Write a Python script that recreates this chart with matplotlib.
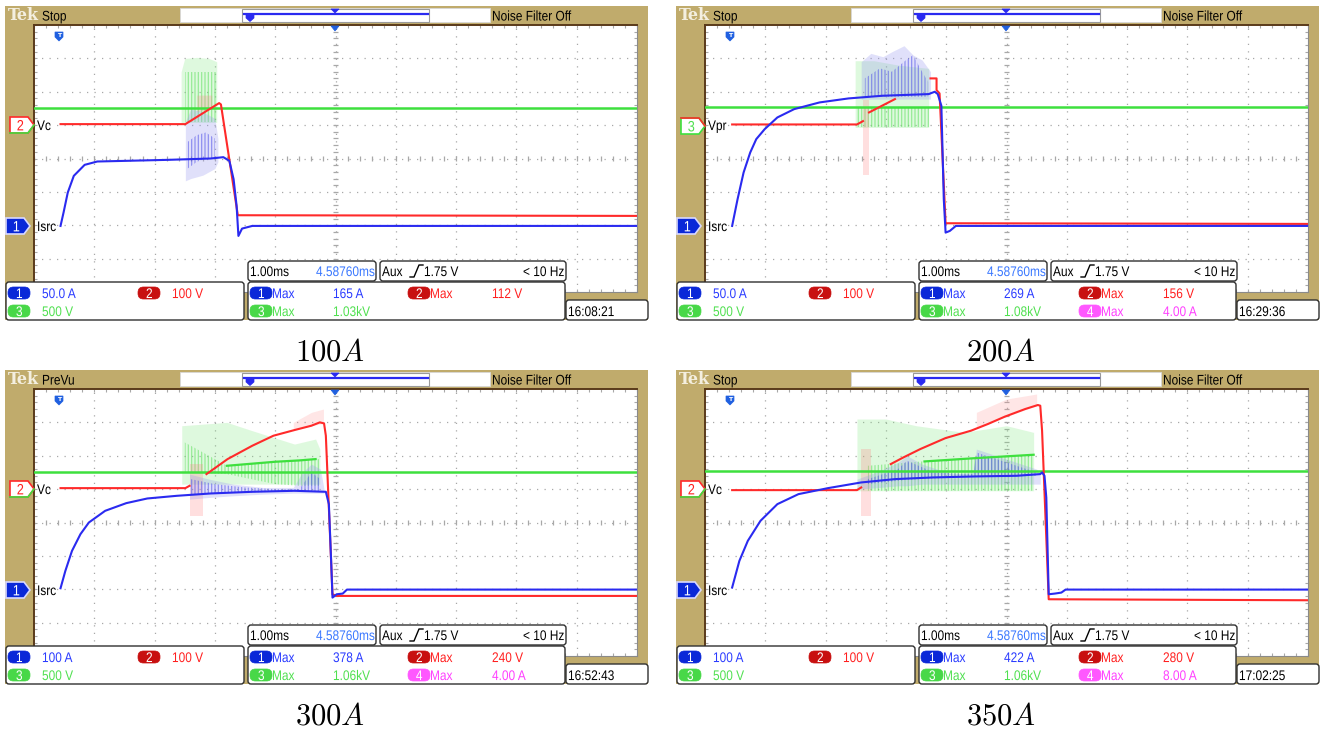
import numpy as np
import matplotlib
matplotlib.use("Agg")
import matplotlib.pyplot as plt
from matplotlib.patches import Rectangle, FancyBboxPatch, Polygon, PathPatch
from matplotlib.textpath import TextPath
from matplotlib.font_manager import FontProperties
from matplotlib.transforms import Affine2D

# ------------------------------------------------------------------ data
CAPTIONS = ["100A", "200A", "300A", "350A"]
STATUS = ["Stop", "Stop", "PreVu", "Stop"]
REF_CH = ["2", "3", "2", "2"]
REF_LABEL = ["Vc", "Vpr", "Vc", "Vc"]
CH1_SCALE = ["50.0 A", "50.0 A", "100 A", "100 A"]
CH2_SCALE = ["100 V", "100 V", "100 V", "100 V"]
CH3_SCALE = ["500 V", "500 V", "500 V", "500 V"]
MAX1 = ["165 A", "269 A", "378 A", "422 A"]
MAX2 = ["112 V", "156 V", "240 V", "280 V"]
MAX3 = ["1.03kV", "1.08kV", "1.06kV", "1.06kV"]
MAX4 = ["", "4.00 A", "4.00 A", "8.00 A"]
TIMESTAMPS = ["16:08:21", "16:29:36", "16:52:43", "17:02:25"]
TIMEBASE = "1.00ms"
POSITION = "4.58760ms"
TRIG_SRC = "Aux"
TRIG_LEVEL = "1.75 V"
TRIG_FREQ = "< 10 Hz"

# traces in graticule divisions (x 0..10, y -4..4); nan = gap
P1_GREEN_X = [0.0, 10.0]
P1_GREEN_Y = [1.51, 1.51]
P1_RED_X = [0.44, 2.51, 3.07, 3.10, 3.38, 10.0]
P1_RED_Y = [1.03, 1.03, 1.66, 1.62, -1.70, -1.72]
P1_BLUE_X = [0.44, 0.49, 0.56, 0.66, 0.84, 1.05, 1.53, 2.23, 2.93, 3.14, 3.24, 3.31, 3.36, 3.39, 3.45, 3.62, 10.0]
P1_BLUE_Y = [-2.02, -1.62, -1.02, -0.52, -0.19, -0.09, -0.07, -0.04, 0.0, 0.04, -0.07, -0.62, -1.42, -2.32, -2.10, -2.02, -2.02]
P1_GL_X = [2.44, 2.50, 2.70, 2.90, 3.03]
P1_GL_LO = [1.08, 1.08, 1.08, 1.08, 1.08]
P1_GL_HI = [2.60, 3.00, 3.03, 3.00, 2.90]
P1_GD_X = [2.50, 3.03]
P1_GD_LO = [1.10, 1.10]
P1_GD_HI = [2.60, 2.60]
P1_BL_X = [2.51, 2.60, 2.80, 3.00, 3.05]
P1_BL_LO = [-0.67, -0.60, -0.50, -0.30, -0.10]
P1_BL_HI = [1.10, 1.48, 1.40, 1.20, 0.60]
P1_BD_X = [2.55, 2.70, 2.85, 3.00]
P1_BD_LO = [-0.30, -0.10, 0.00, 0.00]
P1_BD_HI = [0.50, 0.70, 0.78, 0.60]
P1_RL_X = [2.70, 2.95]
P1_RL_LO = [1.40, 1.50]
P1_RL_HI = [1.90, 1.90]

P2_GREEN_X = [0.0, 10.0]
P2_GREEN_Y = [1.53, 1.53]
P2_RED_X = [0.45, 2.52, 2.62, np.nan, 2.72, 3.15, np.nan, 3.74, 3.84, 3.84, 3.89, 3.99, 10.0]
P2_RED_Y = [1.02, 1.02, 1.12, np.nan, 1.38, 1.78, np.nan, 2.40, 2.40, 2.05, 1.95, -1.94, -1.96]
P2_BLUE_X = [0.45, 0.54, 0.64, 0.75, 0.85, 0.99, 1.20, 1.48, 1.90, 2.38, 2.94, 3.71, 3.81, 3.86, 3.92, 3.96, 3.99, 4.06, 4.16, 10.0]
P2_BLUE_Y = [-2.02, -1.22, -0.42, 0.18, 0.58, 0.88, 1.23, 1.48, 1.68, 1.80, 1.88, 1.93, 2.00, 1.93, 1.58, -1.22, -2.22, -2.17, -2.02, -2.02]
P2_GL_X = [2.49, 2.80, 3.20, 3.71]
P2_GL_LO = [0.93, 0.93, 0.93, 0.93]
P2_GL_HI = [2.93, 2.93, 2.80, 2.70]
P2_GD_X = [2.50, 3.71]
P2_GD_LO = [0.93, 0.93]
P2_GD_HI = [1.53, 1.53]
P2_BL_X = [2.59, 2.75, 2.95, 3.10, 3.30, 3.45, 3.60, 3.74]
P2_BL_LO = [1.78, 1.78, 1.78, 1.78, 1.78, 1.78, 1.78, 1.78]
P2_BL_HI = [2.90, 3.15, 3.05, 3.20, 3.38, 3.10, 2.95, 2.60]
P2_BD_X = [2.65, 2.90, 3.10, 3.30, 3.45, 3.60, 3.70]
P2_BD_LO = [1.85, 1.85, 1.85, 1.85, 1.85, 1.85, 1.85]
P2_BD_HI = [2.40, 2.70, 2.60, 2.90, 3.10, 2.60, 2.30]
P2_RL_X = [2.62, 2.72]
P2_RL_LO = [-0.50, -0.50]
P2_RL_HI = [1.75, 1.75]

P3_GREEN_X = [0.0, 10.0]
P3_GREEN_Y = [1.52, 1.52]
P3_RED_X = [0.44, 2.51, 2.58, np.nan, 2.86, 3.21, 3.62, 3.97, 4.32, 4.60, 4.74, 4.81, 4.84, 4.95, 5.02, 10.0]
P3_RED_Y = [1.03, 1.03, 1.10, np.nan, 1.45, 1.90, 2.30, 2.60, 2.77, 2.90, 3.00, 2.97, 2.60, -2.15, -2.20, -2.20]
P3_BLUE_X = [0.44, 0.52, 0.63, 0.77, 0.91, 1.18, 1.53, 1.88, 2.37, 2.93, 3.62, 4.32, 4.84, 4.89, 4.93, 4.95, 5.02, 5.12, 5.19, 10.0]
P3_BLUE_Y = [-1.97, -1.45, -0.85, -0.35, 0.0, 0.35, 0.58, 0.72, 0.80, 0.87, 0.92, 0.95, 0.92, 0.55, -1.25, -2.25, -2.15, -2.13, -2.01, -2.01]
P3_GL_X = [2.45, 3.20, 3.62, 4.32, 4.67, 4.74]
P3_GL_LO = [1.15, 1.15, 1.15, 1.15, 1.15, 1.15]
P3_GL_HI = [2.90, 3.00, 2.75, 2.35, 2.50, 2.20]
P3_GD_X = [2.50, 3.20, 3.60, 4.00, 4.40, 4.74]
P3_GD_LO = [1.50, 1.45, 1.30, 1.15, 1.10, 1.10]
P3_GD_HI = [2.40, 1.70, 1.76, 1.82, 1.86, 1.90]
P3_GLINE_X = [3.20, 3.60, 4.00, 4.40, 4.67]
P3_GLINE_Y = [1.70, 1.76, 1.82, 1.86, 1.90]
P3_BL_X = [2.58, 2.90, 3.30, 3.80, 4.30, 4.45, 4.60, 4.75, 4.81]
P3_BL_LO = [0.70, 0.75, 0.80, 0.85, 0.88, 0.88, 0.88, 0.88, 0.88]
P3_BL_HI = [1.45, 1.30, 1.15, 1.05, 1.05, 1.50, 1.75, 1.60, 1.00]
P3_BD_X = [2.60, 3.00, 3.50, 4.00, 4.40, 4.60, 4.75]
P3_BD_LO = [0.85, 0.87, 0.90, 0.92, 0.93, 0.93, 0.93]
P3_BD_HI = [1.30, 1.15, 1.05, 1.00, 1.00, 1.50, 1.30]
P3_RL_X = [2.58, 2.80]
P3_RL_LO = [0.20, 0.20]
P3_RL_HI = [1.75, 1.75]
P3_RP_X = [4.30, 4.60, 4.80]
P3_RP_LO = [2.77, 2.90, 2.97]
P3_RP_HI = [3.00, 3.30, 3.40]

P4_GREEN_X = [0.0, 10.0]
P4_GREEN_Y = [1.53, 1.53]
P4_RED_X = [0.45, 2.52, 2.59, np.nan, 3.08, 3.29, 3.57, 3.99, 4.41, 4.69, 4.97, 5.31, 5.52, 5.56, 5.59, 5.70, 10.0]
P4_RED_Y = [0.97, 0.97, 1.05, np.nan, 1.75, 1.95, 2.20, 2.53, 2.75, 2.95, 3.17, 3.40, 3.52, 3.50, 2.75, -2.30, -2.33]
P4_BLUE_X = [0.45, 0.57, 0.71, 0.92, 1.20, 1.55, 2.04, 2.59, 3.15, 3.78, 4.48, 5.17, 5.56, 5.59, 5.63, 5.66, 5.70, 5.80, 5.91, 5.98, 10.0]
P4_BLUE_Y = [-1.95, -1.15, -0.55, 0.05, 0.55, 0.85, 1.03, 1.20, 1.30, 1.35, 1.38, 1.40, 1.45, 1.50, 1.40, 0.75, -2.15, -2.13, -2.10, -2.01, -2.01]
P4_GL_X = [2.52, 3.00, 3.50, 4.30, 5.00, 5.45]
P4_GL_LO = [0.95, 0.95, 0.95, 0.95, 0.95, 0.95]
P4_GL_HI = [3.10, 3.10, 2.90, 2.70, 2.90, 2.70]
P4_GD_X = [2.70, 3.60, 4.50, 5.45]
P4_GD_LO = [0.95, 0.95, 0.95, 0.95]
P4_GD_HI = [1.70, 1.83, 1.93, 2.03]
P4_GLINE_X = [3.64, 4.50, 5.45]
P4_GLINE_Y = [1.83, 1.93, 2.03]
P4_BL_X = [2.52, 2.90, 3.20, 3.35, 3.60, 4.10, 4.45, 4.50, 5.00, 5.50, 5.56]
P4_BL_LO = [1.00, 1.05, 1.10, 1.10, 1.15, 1.15, 1.15, 1.15, 1.15, 1.15, 1.15]
P4_BL_HI = [1.30, 1.55, 1.80, 2.00, 1.75, 1.45, 1.50, 2.20, 1.90, 1.60, 1.45]
P4_BD_X = [2.70, 3.20, 3.35, 3.80, 4.45, 4.50, 5.00, 5.50]
P4_BD_LO = [1.15, 1.25, 1.28, 1.32, 1.36, 1.36, 1.38, 1.40]
P4_BD_HI = [1.30, 1.60, 1.85, 1.50, 1.45, 2.10, 1.80, 1.50]
P4_RL_X = [2.59, 2.75]
P4_RL_LO = [0.20, 0.20]
P4_RL_HI = [2.20, 2.20]
P4_RP_X = [4.50, 5.00, 5.50]
P4_RP_LO = [2.85, 3.18, 3.50]
P4_RP_HI = [3.30, 3.70, 3.85]

# ------------------------------------------------------------------ style
W, H = 1320, 729
TAN = "#c0ab6c"
BLUE = "#2a2af0"
RED = "#ff2a2a"
GREEN = "#3ee03e"
TXT_BLUE = "#2b3cff"
TXT_POS = "#3a78ff"
TXT_RED = "#ff2020"
TXT_GREEN = "#50e050"
TXT_MAG = "#ff40ff"
PILL_BLUE = "#0a28d8"
PILL_RED = "#c81010"
PILL_GREEN = "#48d848"
PILL_MAG = "#ff58ff"
GRID = "#a8a8a8"
FP = FontProperties(family=["Liberation Sans", "DejaVu Sans"])
TSIZE = 14.0      # em size in pixels
SX = 0.85         # condensed look of the scope font

plt.rcParams["hatch.linewidth"] = 0.9
plt.rcParams["mathtext.fontset"] = "cm"

fig = plt.figure(figsize=(13.2, 7.29), dpi=100)
fig.patch.set_facecolor("white")
bg = fig.add_axes([0, 0, 1, 1], zorder=0)
bg.set_xlim(0, W); bg.set_ylim(H, 0); bg.axis("off")
ov = fig.add_axes([0, 0, 1, 1], zorder=5)
ov.set_xlim(0, W); ov.set_ylim(H, 0); ov.axis("off")


def txt(ax, x, y, s, color="black", size=TSIZE, ha="left", sx=SX):
    """Condensed scope text drawn as a path in pixel coordinates."""
    tp = TextPath((0, 0), s, size=size, prop=FP)
    ext = tp.get_extents()
    w = ext.x1 * sx
    if ha == "center":
        x0 = x - w / 2
    elif ha == "right":
        x0 = x - w
    else:
        x0 = x
    tr = Affine2D().scale(sx, -1.0).translate(x0, y + 0.36 * size)
    path = tr.transform_path(tp)
    ax.add_patch(PathPatch(path, fc=color, ec="none", lw=0, zorder=10))


def box(ax, x0, y0, x1, y1, r=3):
    ax.add_patch(FancyBboxPatch((x0, y0), x1 - x0, y1 - y0,
                                boxstyle=f"round,pad=0,rounding_size={r}",
                                fc="white", ec="#303030", lw=1.0))


def pill(ax, x, y, label, color, textlabel=None, tcolor=None):
    ax.add_patch(FancyBboxPatch((x, y - 6), 22, 12,
                                boxstyle="round,pad=0,rounding_size=5.5",
                                fc=color, ec=color, lw=0.5))
    txt(ax, x + 11, y, label, color="white", ha="center")
    if textlabel:
        txt(ax, x + 22, y, textlabel, color=tcolor)


def ch_marker(ax, x0, yc, label, fc, ec, tc, under=None, over=None):
    pts = [(x0, yc - 8), (x0 + 18, yc - 8), (x0 + 24, yc), (x0 + 18, yc + 8), (x0, yc + 8)]
    ax.add_patch(Polygon(pts, closed=True, fc=fc, ec=ec, lw=1.2))
    if under:
        ax.plot([x0, x0 + 18, x0 + 24], [yc + 8, yc + 8, yc], color=under, lw=1.2)
    if over:
        ax.plot([x0, x0 + 18, x0 + 24], [yc - 8, yc - 8, yc], color=over, lw=1.2)
    txt(ax, x0 + 10, yc, label, color=tc, size=15, ha="center")


def fill(ax, x, lo, hi, color, alpha, hatch=None, z=2):
    if hatch:
        ax.fill_between(x, lo, hi, facecolor="none", edgecolor=color, hatch=hatch,
                        linewidth=0, alpha=alpha, zorder=z)
    else:
        ax.fill_between(x, lo, hi, color=color, alpha=alpha, lw=0, zorder=z)


PANELS = [
    dict(green=(P1_GREEN_X, P1_GREEN_Y), red=(P1_RED_X, P1_RED_Y), blue=(P1_BLUE_X, P1_BLUE_Y),
         gl=(P1_GL_X, P1_GL_LO, P1_GL_HI), gd=(P1_GD_X, P1_GD_LO, P1_GD_HI),
         bl=(P1_BL_X, P1_BL_LO, P1_BL_HI), bd=(P1_BD_X, P1_BD_LO, P1_BD_HI),
         rl=(P1_RL_X, P1_RL_LO, P1_RL_HI), rp=None, gline=None),
    dict(green=(P2_GREEN_X, P2_GREEN_Y), red=(P2_RED_X, P2_RED_Y), blue=(P2_BLUE_X, P2_BLUE_Y),
         gl=(P2_GL_X, P2_GL_LO, P2_GL_HI), gd=(P2_GD_X, P2_GD_LO, P2_GD_HI),
         bl=(P2_BL_X, P2_BL_LO, P2_BL_HI), bd=(P2_BD_X, P2_BD_LO, P2_BD_HI),
         rl=(P2_RL_X, P2_RL_LO, P2_RL_HI), rp=None, gline=None),
    dict(green=(P3_GREEN_X, P3_GREEN_Y), red=(P3_RED_X, P3_RED_Y), blue=(P3_BLUE_X, P3_BLUE_Y),
         gl=(P3_GL_X, P3_GL_LO, P3_GL_HI), gd=(P3_GD_X, P3_GD_LO, P3_GD_HI),
         bl=(P3_BL_X, P3_BL_LO, P3_BL_HI), bd=(P3_BD_X, P3_BD_LO, P3_BD_HI),
         rl=(P3_RL_X, P3_RL_LO, P3_RL_HI), rp=(P3_RP_X, P3_RP_LO, P3_RP_HI),
         gline=(P3_GLINE_X, P3_GLINE_Y)),
    dict(green=(P4_GREEN_X, P4_GREEN_Y), red=(P4_RED_X, P4_RED_Y), blue=(P4_BLUE_X, P4_BLUE_Y),
         gl=(P4_GL_X, P4_GL_LO, P4_GL_HI), gd=(P4_GD_X, P4_GD_LO, P4_GD_HI),
         bl=(P4_BL_X, P4_BL_LO, P4_BL_HI), bd=(P4_BD_X, P4_BD_LO, P4_BD_HI),
         rl=(P4_RL_X, P4_RL_LO, P4_RL_HI), rp=(P4_RP_X, P4_RP_LO, P4_RP_HI),
         gline=(P4_GLINE_X, P4_GLINE_Y)),
]
ORIGINS = [(0, 0), (671, 0), (0, 364), (671, 364)]

for k, (d, (ox, oy)) in enumerate(zip(PANELS, ORIGINS)):
    # frame
    bg.add_patch(Rectangle((ox + 5, oy + 6), 643, 314, fc=TAN, lw=0))
    # graticule
    gl_, gt, gw, gh = ox + 34, oy + 25, 603, 267
    ax = fig.add_axes([gl_ / W, 1 - (gt + gh) / H, gw / W, gh / H], zorder=1)
    ax.set_xlim(0, 10); ax.set_ylim(-4, 4)
    ax.set_facecolor("white")
    for s in ax.spines.values():
        s.set_color("#8a8a8a"); s.set_linewidth(0.8)
    ax.spines["left"].set_color("#5a3a1a"); ax.spines["left"].set_linewidth(1.4)
    ax.spines["top"].set_color("#5a3a1a"); ax.spines["top"].set_linewidth(1.4)
    ax.set_xticks(np.arange(0, 10.01, 0.2)); ax.set_yticks(np.arange(-4, 4.01, 0.2))
    ax.tick_params(direction="in", length=2.5, width=0.8, color=GRID,
                   top=True, right=True, labelbottom=False, labelleft=False)
    for i in range(1, 10):
        ax.axvline(i, color=GRID, lw=0.9, ls=(0, (1, 5)), zorder=1)
    for j in range(-3, 4):
        ax.axhline(j, color=GRID, lw=0.9, ls=(0, (1, 5)), zorder=1)
    ax.hlines(np.arange(-4, 4.01, 0.2), 4.96, 5.04, color=GRID, lw=0.9, zorder=1)
    ax.vlines(np.arange(0, 10.01, 0.2), -0.07, 0.07, color=GRID, lw=0.9, zorder=1)

    # bursts
    fill(ax, *d["gl"], "#7ee87e", 0.25)
    fill(ax, *d["gd"], "#5ee05e", 0.55, hatch="|||||")
    fill(ax, *d["rl"], "#ff8080", 0.25)
    if d["rp"] is not None:
        fill(ax, *d["rp"], "#ff9090", 0.22)
    fill(ax, *d["bl"], "#9a9af0", 0.30, z=3)
    fill(ax, *d["bd"], "#5050e8", 0.55, hatch="|||||", z=3)

    gx, gy = d["green"]
    ax.plot(gx, gy, color=GREEN, lw=1.8, zorder=4)
    if d["gline"] is not None:
        ax.plot(*d["gline"], color=GREEN, lw=1.6, zorder=4)
    rx, ry = d["red"]
    ax.plot(rx, ry, color=RED, lw=1.5, zorder=5)
    bx, by = d["blue"]
    ax.plot(bx, by, color=BLUE, lw=1.5, zorder=6)

    # top bar
    bg.text(ox + 8, oy + 15, "Tek", color="#f4efe0", fontsize=11.5, family="DejaVu Serif",
            fontweight="bold", va="center", ha="left")
    txt(bg, ox + 42, oy + 15.5, STATUS[k])
    bg.add_patch(Rectangle((ox + 180, oy + 8), 310, 14, fc="white", ec="#d8d8d8", lw=0.6))
    bg.add_patch(Rectangle((ox + 242, oy + 8.5), 187, 13, fc="white", ec="#9a9a9a", lw=0.8))
    bg.plot([ox + 244, ox + 428], [oy + 13.5, oy + 13.5], color=BLUE, lw=1.6)
    bg.add_patch(Polygon([(ox + 331, oy + 9), (ox + 339, oy + 9), (ox + 335, oy + 13)],
                         fc=BLUE, ec=BLUE, lw=0.5))
    bg.add_patch(Polygon([(ox + 246, oy + 14), (ox + 254, oy + 14), (ox + 254, oy + 18),
                          (ox + 250, oy + 21.5), (ox + 246, oy + 18)], fc=BLUE, ec=BLUE, lw=0.5))
    txt(bg, ox + 492, oy + 15.5, "Noise Filter Off")

    # graticule markers (overlay)
    ov.add_patch(Polygon([(ox + 331, oy + 26), (ox + 339, oy + 26), (ox + 335, oy + 31)],
                         fc="#2060e0", ec="#2060e0", lw=0.5))
    ov.add_patch(Polygon([(ox + 55, oy + 32), (ox + 63, oy + 32), (ox + 63, oy + 37),
                          (ox + 59, oy + 41), (ox + 55, oy + 37)], fc="#2060e0", ec="#2060e0", lw=0.5))
    ov.text(ox + 59, oy + 35.5, "T", color="white", fontsize=4.5, ha="center", va="center",
            fontweight="bold")

    # left channel markers
    if REF_CH[k] == "2":
        ch_marker(ov, ox + 10, oy + 125, "2", "white", RED, TXT_RED, under=GREEN)
    else:
        ch_marker(ov, ox + 10, oy + 126, "3", "white", GREEN, TXT_GREEN, over=RED)
    txt(ov, ox + 37, oy + 125, REF_LABEL[k])
    ch_marker(ov, ox + 6, oy + 226, "1", PILL_BLUE, "#d8d8ff", "white")
    txt(ov, ox + 37, oy + 226, "Isrc")

    # timebase / trigger boxes
    box(ov, ox + 248, oy + 261, ox + 376, oy + 281)
    txt(ov, ox + 250, oy + 271, TIMEBASE)
    txt(ov, ox + 316, oy + 271, POSITION, color=TXT_POS)
    box(ov, ox + 380, oy + 261, ox + 566, oy + 281)
    txt(ov, ox + 382, oy + 271, TRIG_SRC)
    ov.plot([ox + 410, ox + 414, ox + 419, ox + 423],
            [oy + 277, oy + 277, oy + 265, oy + 265], color="black", lw=1.0)
    txt(ov, ox + 424, oy + 271, TRIG_LEVEL)
    txt(ov, ox + 523, oy + 271, TRIG_FREQ)

    # channel scale box
    box(ov, ox + 6, oy + 282, ox + 244, oy + 320)
    pill(ov, ox + 8, oy + 293, "1", PILL_BLUE)
    txt(ov, ox + 42, oy + 293, CH1_SCALE[k], color=TXT_BLUE)
    pill(ov, ox + 138, oy + 293, "2", PILL_RED)
    txt(ov, ox + 172, oy + 293, CH2_SCALE[k], color=TXT_RED)
    pill(ov, ox + 8, oy + 311, "3", PILL_GREEN)
    txt(ov, ox + 42, oy + 311, CH3_SCALE[k], color=TXT_GREEN)

    # measurement box
    box(ov, ox + 248, oy + 282, ox + 565, oy + 320)
    pill(ov, ox + 250, oy + 293, "1", PILL_BLUE, "Max", TXT_BLUE)
    txt(ov, ox + 333, oy + 293, MAX1[k], color=TXT_BLUE)
    pill(ov, ox + 408, oy + 293, "2", PILL_RED, "Max", TXT_RED)
    txt(ov, ox + 492, oy + 293, MAX2[k], color=TXT_RED)
    pill(ov, ox + 250, oy + 311, "3", PILL_GREEN, "Max", TXT_GREEN)
    txt(ov, ox + 333, oy + 311, MAX3[k], color=TXT_GREEN)
    if MAX4[k]:
        pill(ov, ox + 408, oy + 311, "4", PILL_MAG, "Max", TXT_MAG)
        txt(ov, ox + 492, oy + 311, MAX4[k], color=TXT_MAG)

    # timestamp
    box(ov, ox + 566, oy + 300, ox + 648, oy + 320)
    txt(ov, ox + 568, oy + 311, TIMESTAMPS[k])

    # caption
    num = CAPTIONS[k][:-1]
    ov.text(ox + 330, oy + 352, f"${num}A$", fontsize=22, ha="center", va="center",
            color="black")

fig.savefig("out.png", dpi=100, facecolor="white")
